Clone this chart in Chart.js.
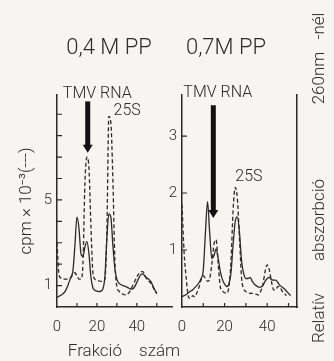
<!DOCTYPE html>
<html><head><meta charset="utf-8">
<script src="https://cdn.jsdelivr.net/npm/chart.js@4.4.0/dist/chart.umd.min.js"></script>
<style>
html,body{margin:0;padding:0;background:#f6f5f1;}
body{width:334px;height:361px;position:relative;overflow:hidden;font-family:Roboto,'DejaVu Sans',sans-serif;font-weight:300;color:#2c2c2c;}
canvas{position:absolute;top:0;}
#cL{left:0;width:178px;height:361px;}
#cR{left:160px;width:174px;height:361px;}
.t{position:absolute;white-space:nowrap;line-height:1;transform:translate(-50%,-50%);}
.r{position:absolute;white-space:nowrap;line-height:1;font-size:17px;transform:translate(-50%,-50%) rotate(-90deg);}
</style></head><body>
<canvas id="cL" width="178" height="361"></canvas>
<canvas id="cR" width="174" height="361"></canvas>
<div class="t" style="left:109px;top:47px;font-size:22px;">0,4 M PP</div>
<div class="t" style="left:226px;top:47px;font-size:22px;">0,7M PP</div>
<div class="t" style="left:124px;top:350px;font-size:17px;word-spacing:13px;">Frakció szám</div>
<div class="r" style="left:318px;top:318px;">Relatív</div>
<div class="r" style="left:318px;top:220px;">abszorbció</div>
<div class="r" style="left:318px;top:78px;">260nm</div>
<div class="r" style="left:318px;top:26px;">-nél</div>
<script>
// ---- data ----
const fractions = [0,1,2,3,4,5,6,7,8,9,10,11,12,13,14,15,16,17,18,19,20,21,22,23,24,25,26,27,28,29,30,31,32,33,34,35,36,37,38,39,40,41,42,43,44,45,46,47,48,49,50,51];
// 0,4 M PP panel
const cpm04 = [3.0,1.5,1.35,1.3,1.3,1.3,1.32,1.38,1.5,1.6,1.45,1.3,1.3,2.0,5.8,7.0,6.5,3.8,1.6,1.3,1.25,1.22,1.2,1.2,1.3,3.5,8.9,8.6,6.0,2.2,0.95,0.75,0.64,0.6,0.57,0.58,0.66,0.82,1.0,1.2,1.4,1.55,1.65,1.65,1.5,1.3,1.2,1.12,0.95,0.78,0.62];
const abs04 = [0.45,0.5,0.55,0.62,0.72,0.9,1.15,1.4,1.7,2.9,4.2,3.7,2.5,2.35,2.8,3.05,2.5,1.4,0.9,0.78,0.74,0.72,0.74,0.85,1.4,3.2,4.35,4.2,2.9,1.8,1.3,1.12,1.05,1.0,0.97,0.93,0.88,0.84,0.85,0.95,1.15,1.35,1.5,1.55,1.45,1.35,1.3,1.2,1.0,0.8,0.65];
// 0,7 M PP panel
const cpm07 = [1.8,0.95,0.5,0.18,0.15,0.2,0.18,0.25,0.35,0.48,0.55,0.5,0.45,0.5,0.75,1.1,1.18,0.75,0.35,0.28,0.25,0.24,0.35,0.8,1.7,2.1,1.9,1.2,0.5,0.32,0.27,0.25,0.24,0.24,0.23,0.22,0.21,0.28,0.4,0.62,0.74,0.65,0.45,0.3,0.3,0.36,0.35,0.28,0.24,0.2];
const abs07 = [0.18,0.2,0.22,0.25,0.28,0.3,0.34,0.38,0.43,0.5,0.65,1.3,1.85,1.3,0.85,0.9,1.02,0.85,0.62,0.48,0.4,0.36,0.4,0.6,1.1,1.5,1.58,1.3,0.8,0.58,0.5,0.5,0.52,0.45,0.4,0.37,0.35,0.35,0.38,0.45,0.5,0.52,0.48,0.47,0.47,0.43,0.38,0.35,0.32,0.28,0.24,0.2];
// tick labels and tick marks
const xTickLabels = [0,20,40];
const xTickMarks = [10,20,30,40,50];
const yTickLabels04 = [1,5];
const yTickMarks04 = [1,2,3,4,5,6,7,8,9];
const yTickLabels07 = [1,2,3];
const yTickMarks07 = [1,2,3];
// annotations (data units)
const notes04 = {arrow:[15.4,9.6,7.2], labels:[['TMV RNA',20.2,9.95],['25S',35.2,9.16]]};
const notes07 = {arrow:[14.7,3.54,1.56], labels:[['TMV RNA',16.8,3.75],['25S',31.4,2.28]]};

const INK = '#2a2a2a';
const FONT = 'Roboto, "DejaVu Sans", sans-serif';

const pts = vals => vals.map((v,i)=>({x:fractions[i], y:v}));

const inwardTicks = {
  id:'inwardTicks',
  afterDraw(chart, args, o){
    const ctx = chart.ctx, xs = chart.scales.x, ys = chart.scales.y;
    ctx.save(); ctx.strokeStyle = INK; ctx.lineWidth = 1.2;
    ctx.beginPath();
    (o.x||[]).forEach(v=>{const p=xs.getPixelForValue(v); ctx.moveTo(p, ys.bottom); ctx.lineTo(p, ys.bottom-4);});
    (o.y||[]).forEach(v=>{const p=ys.getPixelForValue(v); ctx.moveTo(xs.left, p); ctx.lineTo(xs.left+5, p);});
    ctx.stroke(); ctx.restore();
  }
};
const notesPlugin = {
  id:'notes',
  afterDraw(chart, args, o){
    const n = o.notes; if(!n) return;
    const ctx = chart.ctx, xs = chart.scales.x, ys = chart.scales.y;
    ctx.save();
    const ax = xs.getPixelForValue(n.arrow[0]);
    const top = ys.getPixelForValue(n.arrow[1]), tip = ys.getPixelForValue(n.arrow[2]);
    ctx.fillStyle = '#111';
    ctx.fillRect(ax-2.5, top, 5, tip-top-7);
    ctx.beginPath(); ctx.moveTo(ax-5, tip-8); ctx.lineTo(ax+5, tip-8); ctx.lineTo(ax, tip); ctx.closePath(); ctx.fill();
    ctx.fillStyle = INK; ctx.font = '300 16px ' + FONT; ctx.textAlign='center'; ctx.textBaseline='middle';
    n.labels.forEach(l=>ctx.fillText(l[0], xs.getPixelForValue(l[1]), ys.getPixelForValue(l[2])));
    ctx.restore();
  }
};

function ds(vals, dashed){
  return {data:pts(vals), borderColor:INK, borderWidth:1.3, borderDash: dashed?[4,2.5]:[], pointRadius:0,
    cubicInterpolationMode:'monotone', fill:false};
}
const tickFont = {family:FONT, size:15, weight:'300'};

new Chart(document.getElementById('cL'), {
  type:'line',
  data:{datasets:[ds(abs04,false), ds(cpm04,true)]},
  options:{
    responsive:false, animation:false, devicePixelRatio:1,
    layout:{padding:{top:95,right:6,left:0,bottom:0}},
    plugins:{legend:{display:false}, tooltip:{enabled:false},
      inwardTicks:{x:xTickMarks, y:yTickMarks04}, notes:{notes:notes04}},
    scales:{
      x:{type:'linear', min:0, max:57.65, grid:{display:false, drawTicks:false, tickLength:0},
        border:{display:true, color:INK, width:1.5},
        afterBuildTicks:s=>{s.ticks = xTickLabels.map(v=>({value:v}));},
        afterFit:s=>{s.height=54;},
        ticks:{color:INK, font:tickFont, padding:11, maxRotation:0, autoSkip:false}},
      y:{type:'linear', min:0, max:9.9, grid:{display:false, drawTicks:false, tickLength:0},
        border:{display:true, color:INK, width:1.5},
        afterBuildTicks:s=>{s.ticks = yTickLabels04.map(v=>({value:v}));},
        afterFit:s=>{s.width=57;},
        ticks:{color:INK, font:tickFont, padding:5, autoSkip:false},
        title:{display:true, text:'cpm × 10⁻³(---)', color:INK, font:{family:FONT,size:17,weight:'300'}, padding:{top:17,bottom:0}}}
    }
  },
  plugins:[inwardTicks, notesPlugin]
});

new Chart(document.getElementById('cR'), {
  type:'line',
  data:{datasets:[ds(abs07,false), ds(cpm07,true)]},
  options:{
    responsive:false, animation:false, devicePixelRatio:1,
    layout:{padding:{top:95,right:37,left:0,bottom:0}},
    plugins:{legend:{display:false}, tooltip:{enabled:false},
      inwardTicks:{x:xTickMarks, y:yTickMarks07}, notes:{notes:notes07}},
    scales:{
      x:{type:'linear', min:0, max:54, grid:{display:false, drawTicks:false, tickLength:0},
        border:{display:true, color:INK, width:1.5},
        afterBuildTicks:s=>{s.ticks = xTickLabels.map(v=>({value:v}));},
        afterFit:s=>{s.height=54;},
        ticks:{color:INK, font:tickFont, padding:11, maxRotation:0, autoSkip:false}},
      y:{type:'linear', min:0, max:3.72, grid:{display:false, drawTicks:false, tickLength:0},
        border:{display:true, color:INK, width:1.5},
        afterBuildTicks:s=>{s.ticks = yTickLabels07.map(v=>({value:v}));},
        afterFit:s=>{s.width=22;},
        ticks:{color:INK, font:tickFont, padding:5, autoSkip:false}},
      y1:{type:'linear', position:'right', min:0, max:3.72, grid:{display:false, drawTicks:false, tickLength:0},
        border:{display:true, color:INK, width:1.5},
        afterFit:s=>{s.width=0;},
        ticks:{display:false}}
    }
  },
  plugins:[inwardTicks, notesPlugin]
});
</script>
</body></html>
